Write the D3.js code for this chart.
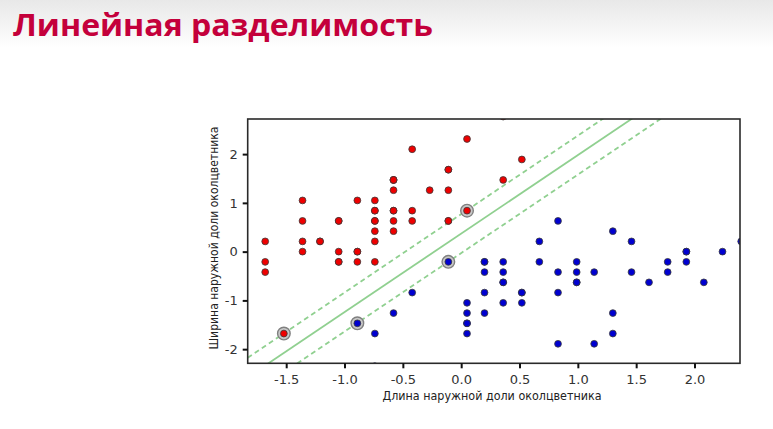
<!DOCTYPE html>
<html>
<head>
<meta charset="utf-8">
<script src="https://cdn.jsdelivr.net/npm/d3@7"></script>
<style>
  body { margin: 0; background: #fff; }
  svg { display: block; }
</style>
</head>
<body>
<svg id="chart" width="773" height="429"></svg>
<script>
// стандартизованные длина/ширина наружной доли: setosa (красные) и versicolor (синие)
const setosaX = [-0.58, -0.89, -1.21, -1.36, -0.74, -0.11, -1.36, -0.74, -1.68, -0.89,
                 -0.11, -1.05, -1.05, -1.87, 0.52, 0.36, -0.11, -0.58, 0.36, -0.58,
                 -0.11, -0.58, -1.36, -0.58, -1.05, -0.74, -0.74, -0.42, -0.42, -1.21,
                 -1.05, -0.11, -0.42, 0.05, -0.89, -0.74, 0.05, -0.89, -1.68, -0.58,
                 -0.74, -1.52, -1.68, -0.74, -0.58, -1.05, -0.58, -1.36, -0.27, -0.74];
const setosaY = [0.84, -0.21, 0.21, 0.00, 1.05, 1.68, 0.63, 0.63, -0.42, 0.00,
                 1.26, 0.63, -0.21, -0.21, 1.89, 2.77, 1.68, 0.84, 1.47, 1.47,
                 0.63, 1.26, 1.05, 0.42, 0.63, -0.21, 0.63, 0.84, 0.63, 0.21,
                 0.00, 0.63, 2.10, 2.31, 0.00, 0.21, 0.84, 1.05, -0.21, 0.63,
                 0.84, -1.68, 0.21, 0.84, 1.47, -0.21, 1.47, 0.21, 1.26, 0.42];
const versicolorX = [2.40, 1.46, 2.24, 0.05, 1.61, 0.36, 1.30, -0.89, 1.77, -0.42,
                     -0.74, 0.67, 0.83, 0.99, 0.20, 1.93, 0.20, 0.52, 1.14, 0.20,
                     0.67, 0.99, 1.30, 0.99, 1.46, 1.77, 2.08, 1.93, 0.83, 0.36,
                     0.05, 0.05, 0.52, 0.83, -0.11, 0.83, 1.93, 1.30, 0.20, 0.05,
                     0.05, 0.99, 0.52, -0.74, 0.20, 0.36, 0.36, 1.14, -0.58, 0.36];
const versicolorY = [0.21, 0.21, 0.00, -1.68, -0.63, -0.63, 0.42, -1.47, -0.42, -0.84,
                     -2.35, -0.21, -1.89, -0.42, -0.42, 0.00, -0.21, -0.84, -1.89, -1.26,
                     0.21, -0.63, -1.26, -0.63, -0.42, -0.21, -0.63, -0.21, -0.42, -1.05,
                     -1.47, -1.47, -0.84, -0.84, -0.21, 0.63, 0.00, -1.68, -0.21, -1.26,
                     -1.05, -0.21, -1.05, -1.68, -0.84, -0.21, -0.42, -0.42, -1.26, -0.63];

// опорные векторы
const supportX = [0.05, -1.52, -0.11, -0.89];
const supportY = [0.84, -1.68, -0.21, -1.47];

// разделяющая прямая y = k*x + b и границы полосы
const boundarySlope = 1.61;
const boundaryIntercepts = [0.77, 0.37, -0.03];
const boundaryDashed = [true, false, true];

const xTicks = [-1.5, -1.0, -0.5, 0.0, 0.5, 1.0, 1.5, 2.0];
const yTicks = [-2, -1, 0, 1, 2];

const svg = d3.select("#chart");
const plot = {left: 247.7, right: 740, top: 119, bottom: 363.3};

const x = d3.scaleLinear().domain([-1.83, 2.39]).range([plot.left, plot.right]);
const y = d3.scaleLinear().domain([-2.29, 2.72]).range([plot.bottom, plot.top]);

// шапка слайда
const defs = svg.append("defs");
const grad = defs.append("linearGradient")
    .attr("id", "head").attr("x1", 0).attr("y1", 0).attr("x2", 0).attr("y2", 1);
grad.append("stop").attr("offset", "0%").attr("stop-color", "#e8e8e8");
grad.append("stop").attr("offset", "100%").attr("stop-color", "#ffffff");
svg.append("rect").attr("width", 773).attr("height", 48).attr("fill", "url(#head)");

svg.append("text")
    .attr("x", 13).attr("y", 36)
    .attr("font-family", "Open Sans, sans-serif")
    .attr("font-weight", 700)
    .attr("font-size", 31)
    .attr("fill", "#c4003b")
    .attr("textLength", 420)
    .attr("lengthAdjust", "spacingAndGlyphs")
    .text("Линейная разделимость");

defs.append("clipPath").attr("id", "clip")
  .append("rect")
    .attr("x", plot.left).attr("y", plot.top)
    .attr("width", plot.right - plot.left).attr("height", plot.bottom - plot.top);

svg.append("rect")
    .attr("x", plot.left).attr("y", plot.top)
    .attr("width", plot.right - plot.left).attr("height", plot.bottom - plot.top)
    .attr("fill", "#fff");

const inner = svg.append("g").attr("clip-path", "url(#clip)");

const [x0, x1] = x.domain();
inner.selectAll("line.boundary")
    .data(boundaryIntercepts)
    .enter().append("line")
    .attr("class", "boundary")
    .attr("x1", x(x0)).attr("x2", x(x1))
    .attr("y1", b => y(boundarySlope * x0 + b))
    .attr("y2", b => y(boundarySlope * x1 + b))
    .attr("stroke", "#90d090")
    .attr("stroke-width", 1.8)
    .attr("stroke-dasharray", (b, i) => boundaryDashed[i] ? "5,3.5" : null);

inner.selectAll("circle.sv")
    .data(d3.range(supportX.length))
    .enter().append("circle")
    .attr("class", "sv")
    .attr("cx", i => x(supportX[i]))
    .attr("cy", i => y(supportY[i]))
    .attr("r", 6.3)
    .attr("fill", "#c8c8c8")
    .attr("stroke", "#808080")
    .attr("stroke-width", 1.4);

function drawClass(xs, ys, color) {
    inner.append("g")
        .attr("stroke", "#3a3a3a")
        .attr("stroke-width", 0.8)
        .selectAll("circle")
        .data(d3.range(xs.length))
        .enter().append("circle")
        .attr("cx", i => x(xs[i]))
        .attr("cy", i => y(ys[i]))
        .attr("r", 3.4)
        .attr("fill", color);
}
drawClass(setosaX, setosaY, "#ee0000");
drawClass(versicolorX, versicolorY, "#0000d0");

svg.append("rect")
    .attr("x", plot.left).attr("y", plot.top)
    .attr("width", plot.right - plot.left).attr("height", plot.bottom - plot.top)
    .attr("fill", "none")
    .attr("stroke", "#2a2a2a")
    .attr("stroke-width", 1.6);

const tickFont = "DejaVu Sans, sans-serif";

const xAxis = svg.append("g")
    .attr("transform", `translate(0,${plot.bottom})`)
    .call(d3.axisBottom(x).tickValues(xTicks).tickFormat(d3.format(".1f")).tickSize(5).tickPadding(6));
const yAxis = svg.append("g")
    .attr("transform", `translate(${plot.left},0)`)
    .call(d3.axisLeft(y).tickValues(yTicks).tickFormat(d3.format("d")).tickSize(5).tickPadding(5));

[xAxis, yAxis].forEach(g => {
    g.select(".domain").remove();
    g.selectAll(".tick line").attr("stroke", "#111").attr("stroke-width", 2);
    g.selectAll(".tick text")
        .attr("font-family", tickFont)
        .attr("font-size", 13)
        .attr("fill", "#333")
        .text(function() { return this.textContent.replace("−", "-"); });
});

svg.append("text")
    .attr("x", 492).attr("y", 400)
    .attr("text-anchor", "middle")
    .attr("font-family", tickFont)
    .attr("font-size", 11.5)
    .attr("fill", "#222")
    .attr("textLength", 219)
    .attr("lengthAdjust", "spacingAndGlyphs")
    .text("Длина наружной доли околцветника");

svg.append("text")
    .attr("transform", "translate(218,238) rotate(-90)")
    .attr("text-anchor", "middle")
    .attr("font-family", tickFont)
    .attr("font-size", 11.5)
    .attr("fill", "#222")
    .attr("textLength", 223)
    .attr("lengthAdjust", "spacingAndGlyphs")
    .text("Ширина наружной доли околцветника");
</script>
</body>
</html>
